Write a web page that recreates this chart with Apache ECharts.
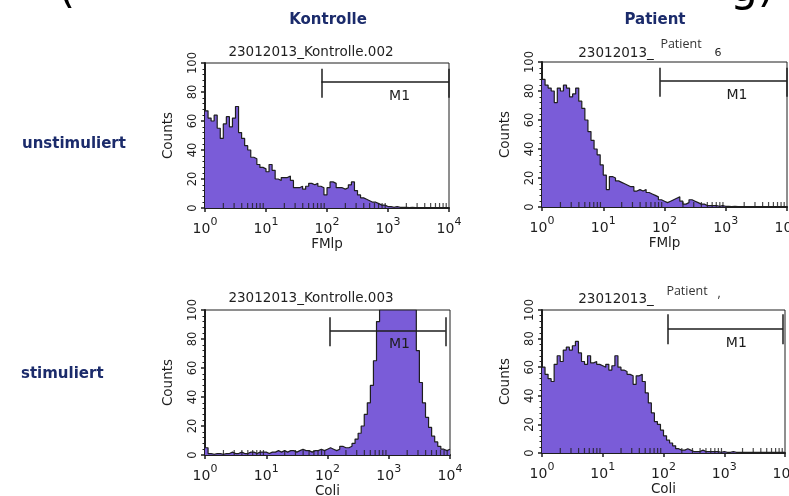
<!DOCTYPE html>
<html>
<head>
<meta charset="utf-8">
<script src="https://cdn.jsdelivr.net/npm/echarts@6/dist/echarts.min.js"></script>
<style>
  html, body { margin: 0; padding: 0; background: #fff; }
  #chart { width: 789px; height: 496px; }
</style>
</head>
<body>
<div id="chart"></div>
<script>
// x axis: log scale 10^0 .. 10^4, histogram bins are 1/20 decade wide
const decades = [1, 10, 100, 1000, 10000];
const minorSteps = [2, 3, 4, 5, 6, 7, 8, 9];
const binsPerDecade = 20;
const yTicks = [0, 20, 40, 60, 80, 100];

// counts per bin
const kontrolleUnstim = [
  67, 62, 60, 64, 55, 48, 58, 63, 56, 62,
  70, 52, 48, 43, 40, 35, 34, 30, 28, 27,
  25, 30, 26, 20, 19, 21, 21, 22, 19, 14,
  14, 15, 13, 15, 17, 16, 17, 15, 14, 9,
  14, 18, 17, 14, 14, 13, 14, 16, 18, 12,
  9, 7, 6, 5, 4, 4, 3, 2, 2, 1,
  1, 0.5, 1, 0.5, 0.5, 0.5, 0.3, 0.5, 0.3, 0.3,
  0.3, 0.3, 0.3, 0.3, 0.3, 0.3, 0.3, 0.3, 0.3, 0.3
];
const patientUnstim = [
  88, 84, 82, 80, 72, 82, 80, 84, 82, 76,
  78, 82, 73, 68, 60, 52, 46, 40, 36, 29,
  22, 12, 21, 20, 18, 17, 16, 15, 14, 14,
  11, 12, 11, 12, 10, 9, 8, 7, 5, 4,
  3, 4, 5, 6, 7, 4, 2, 3, 5, 4,
  3, 2, 2, 1, 1, 1, 1, 0.5, 1, 0.5,
  0.5, 0.3, 0.5, 0.3, 0.3, 0.3, 0.3, 0.3, 0.3, 0.3,
  0.3, 0.3, 0.3, 0.3, 0.3, 0.3, 0.3, 0.3, 0.3, 0.3
];
const kontrolleStim = [
  5, 1, 0.5, 1, 1, 0.5, 1, 1, 2, 1,
  1, 2, 1, 1, 2, 2, 1, 2, 2, 2,
  1, 2, 2, 3, 2, 3, 2, 3, 3, 2,
  3, 4, 3, 3, 2, 3, 3, 4, 3, 4,
  5, 4, 3, 4, 6, 5, 5, 6, 8, 11,
  15, 20, 28, 36, 48, 65, 92, 100, 100, 100,
  100, 100, 100, 100, 100, 100, 100, 100, 100, 72,
  50, 36, 26, 19, 13, 9, 6, 4, 3, 4
];
const patientStim = [
  60, 55, 52, 50, 62, 68, 64, 72, 74, 72,
  75, 78, 70, 64, 62, 68, 63, 64, 62, 61,
  60, 62, 58, 61, 68, 60, 58, 57, 55, 54,
  48, 54, 55, 50, 42, 35, 28, 22, 20, 16,
  12, 9, 7, 5, 3, 2, 2, 3, 2, 1,
  1, 1, 2, 1, 1, 1, 1, 1, 0.5, 1,
  0.5, 0.5, 1, 0.5, 0.5, 0.5, 0.5, 0.5, 0.5, 0.5,
  0.5, 0.5, 0.5, 0.5, 0.5, 0.5, 0.5, 0.5, 0.5, 0.5
];

// M1 gate: [from, to, level, tickLow, tickHigh] and label position
const gateKontrolleUnstim = [81, 10000, 87, 76, 96];
const gatePatientUnstim = [85, 10000, 87, 76, 96];
const gateKontrolleStim = [110, 8500, 86, 75, 95];
const gatePatientStim = [118, 9300, 87, 76, 97];
const m1KontrolleUnstim = [1550, 77];
const m1PatientUnstim = [1520, 77];
const m1KontrolleStim = [1500, 76];
const m1PatientStim = [1580, 77];

const panels = [
  { data: kontrolleUnstim, xName: 'FMlp', gate: gateKontrolleUnstim, m1: m1KontrolleUnstim,
    grid: { left: 205, top: 63, width: 244, height: 145 } },
  { data: patientUnstim, xName: 'FMlp', gate: gatePatientUnstim, m1: m1PatientUnstim,
    grid: { left: 542, top: 62, width: 245, height: 145 } },
  { data: kontrolleStim, xName: 'Coli', gate: gateKontrolleStim, m1: m1KontrolleStim,
    grid: { left: 205, top: 310, width: 245, height: 145 } },
  { data: patientStim, xName: 'Coli', gate: gatePatientStim, m1: m1PatientStim,
    grid: { left: 542, top: 310, width: 243, height: 143 } }
];

const FONT = '"DejaVu Sans", sans-serif';
const INK = '#1e1e1e';
const FILL = '#7a5cd8';
const NAVY = '#1b2b6b';

function histData(values) {
  const pts = values.map((v, i) => [Math.pow(10, i / binsPerDecade), v]);
  pts.push([decades[decades.length - 1], values[values.length - 1]]);
  return pts;
}

const minorTickData = [];
decades.slice(0, -1).forEach((d) => {
  minorSteps.forEach((k) => minorTickData.push([k * d, 0]));
});

const option = {
  backgroundColor: '#fff',
  animation: false,
  grid: panels.map((p) => Object.assign({
    show: true, borderColor: INK, borderWidth: 1, backgroundColor: 'transparent',
    containLabel: false, outerBoundsMode: 'none'
  }, p.grid)),
  xAxis: panels.map((p, i) => ({
    type: 'log',
    logBase: 10,
    gridIndex: i,
    min: decades[0],
    max: decades[decades.length - 1],
    name: p.xName,
    nameLocation: 'middle',
    nameGap: 29,
    nameTextStyle: { color: INK, fontSize: 13.5, fontFamily: FONT },
    axisLine: { show: true, lineStyle: { color: INK, width: 2 } },
    axisTick: { show: true, inside: false, length: 4, lineStyle: { color: INK, width: 1.5 } },
    splitLine: { show: false },
    axisLabel: {
      margin: 9,
      hideOverlap: false,
      formatter: (v) => '{b|10}{s|' + Math.round(Math.log10(v)) + '}',
      rich: {
        b: { fontSize: 14, fontFamily: FONT, color: INK, verticalAlign: 'bottom', padding: [5, 0, 0, 0] },
        s: { fontSize: 11, fontFamily: FONT, color: INK, verticalAlign: 'top' }
      }
    }
  })),
  yAxis: panels.map((p, i) => ({
    type: 'value',
    gridIndex: i,
    min: yTicks[0],
    max: yTicks[yTicks.length - 1],
    interval: yTicks[1] - yTicks[0],
    name: 'Counts',
    nameLocation: 'middle',
    nameGap: 30,
    nameRotate: 90,
    nameTextStyle: { color: INK, fontSize: 13.5, fontFamily: FONT },
    axisLine: { show: true, lineStyle: { color: INK, width: 2 } },
    axisTick: { show: true, length: 4, lineStyle: { color: INK, width: 1.5 } },
    minorTick: { show: true, splitNumber: 5, length: 2.5, lineStyle: { color: INK, width: 1 } },
    splitLine: { show: false },
    axisLabel: { rotate: 90, margin: 6, fontSize: 11.5, fontFamily: FONT, color: INK }
  })),
  series: []
};

panels.forEach((p, i) => {
  const g = p.gate;
  option.series.push({
    type: 'line',
    xAxisIndex: i,
    yAxisIndex: i,
    data: histData(p.data),
    step: 'end',
    symbol: 'none',
    showSymbol: false,
    lineStyle: { color: INK, width: 1.2 },
    areaStyle: { color: FILL, opacity: 1 },
    silent: true,
    markLine: {
      silent: true,
      symbol: ['none', 'none'],
      label: { show: false },
      lineStyle: { color: INK, width: 1.5, type: 'solid' },
      data: [
        [{ coord: [g[0], g[2]] }, { coord: [g[1], g[2]] }],
        [{ coord: [g[0], g[3]] }, { coord: [g[0], g[4]] }],
        [{ coord: [g[1], g[3]] }, { coord: [g[1], g[4]] }]
      ]
    },
    markPoint: {
      silent: true,
      symbol: 'rect',
      symbolSize: 1,
      itemStyle: { color: 'rgba(0,0,0,0)' },
      label: { show: true, position: 'inside', formatter: 'M1', color: INK, fontSize: 14, fontFamily: FONT },
      data: [{ coord: p.m1 }]
    }
  });
  // minor log ticks pointing into the plot
  option.series.push({
    type: 'scatter',
    xAxisIndex: i,
    yAxisIndex: i,
    data: minorTickData,
    symbol: 'rect',
    symbolSize: [1.2, 5],
    symbolOffset: [0, -2.5],
    itemStyle: { color: INK },
    silent: true,
    clip: false,
    z: 5
  });
});

function txt(text, x, y, font, fill, align, vAlign) {
  return {
    type: 'text', x: x, y: y, silent: true,
    style: { text: text, font: font, fill: fill || INK, align: align || 'center', verticalAlign: vAlign || 'middle' }
  };
}

option.graphic = [
  txt('(', 58, 13, '44px "DejaVu Sans"', '#000', 'left', 'bottom'),
  txt('g)', 775, 12, '44px "DejaVu Sans"', '#000', 'right', 'bottom'),
  txt('Kontrolle', 328, 20, 'bold 15px "DejaVu Sans"', NAVY),
  txt('Patient', 655, 20, 'bold 15px "DejaVu Sans"', NAVY),
  txt('unstimuliert', 22, 144, 'bold 15px "DejaVu Sans"', NAVY, 'left'),
  txt('stimuliert', 21, 374, 'bold 15px "DejaVu Sans"', NAVY, 'left'),
  txt('23012013_Kontrolle.002', 311, 52, '13.5px "DejaVu Sans"'),
  txt('23012013_Kontrolle.003', 311, 298, '13.5px "DejaVu Sans"'),
  txt('23012013_', 616, 53, '13.5px "DejaVu Sans"'),
  txt('Patient', 681, 44, '12.5px "Open Sans"', '#333'),
  txt('6', 718, 53, '11px "DejaVu Sans"'),
  txt('23012013_', 616, 299, '13.5px "DejaVu Sans"'),
  txt('Patient', 687, 291, '12.5px "Open Sans"', '#333'),
  txt(',', 719, 293, '12.5px "Open Sans"', '#333')
];

const chart = echarts.init(document.getElementById('chart'));
chart.setOption(option);
</script>
</body>
</html>
